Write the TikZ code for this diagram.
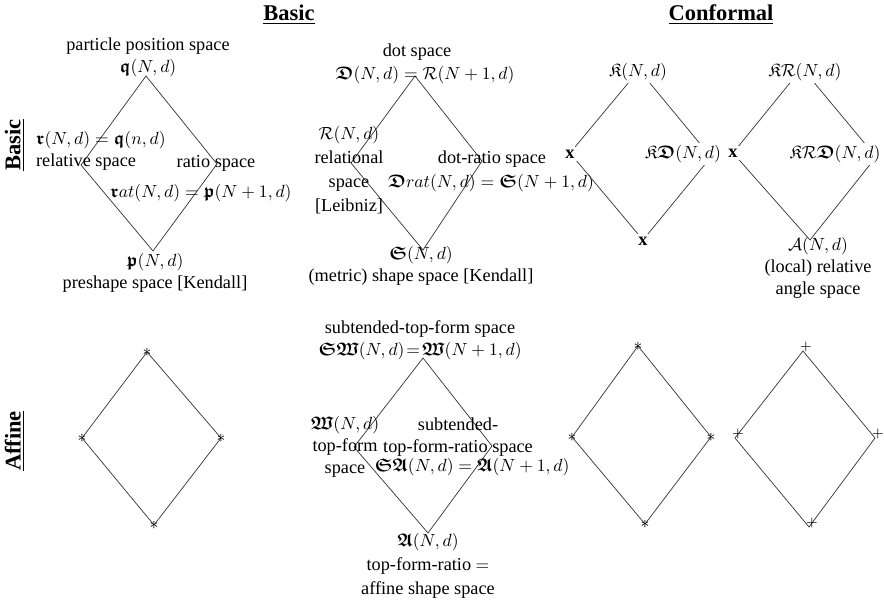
\documentclass[tikz,border=0pt]{standalone}
\usepackage{amsmath,amssymb}
\usepackage[no-math]{fontspec}
\setmainfont{Liberation Serif}
\usepackage{tikz}
\usetikzlibrary{positioning}
\newcommand{\bfr}[1]{\boldsymbol{\mathfrak{#1}}}

\begin{document}
\begin{tikzpicture}[x=0.02cm,y=-0.02cm,
  every node/.style={font=\fontsize{10.4}{12.5}\selectfont,inner sep=1pt},
  lbl/.style={align=center},
  wide/.style={align=center,font=\fontsize{10.4}{13.6}\selectfont},
  hdr/.style={font=\fontsize{12.8}{15}\selectfont\bfseries},
  side/.style={line width=0.4pt,black!80},
  cover/.style={fill=white,inner sep=1.5pt},
  mk/.style={inner sep=0pt,font=\fontsize{10}{10}\selectfont},
  mkp/.style={inner sep=0pt,font=\fontsize{8}{8}\selectfont}]
  \useasboundingbox (0,0) rectangle (884,604);

  % headers
  \node[hdr] (hbasic) at (289,15) {\underline{Basic}};
  \node[hdr] (hconf) at (721,15) {\underline{Conformal}};
  \node[hdr,rotate=90] (rbasic) at (15,145) {\underline{Basic}};
  \node[hdr,rotate=90] (raffine) at (15,441) {\underline{Affine}};

  % basic / basic
  \coordinate (q) at (146,76); \coordinate (r) at (81,165);
  \coordinate (ra) at (217,164); \coordinate (p) at (153,251);
  \draw[side] (q) -- (r) -- (p) -- (ra) -- cycle;
  \node[lbl] (qlab) at (148,57) {particle position space\\ $\bfr{q}(N,d)$};
  \node[align=left,anchor=west] (rlab) at (34,151) {$\bfr{r}(N,d) = \bfr{q}(n,d)$\\ relative space};
  \node (ralab) at (216,163) {ratio space};
  \node (ratlab) at (201,193) {$\bfr{r}at(N,d) = \bfr{p}(N+1,d)$};
  \node[lbl] (plab) at (155,273) {$\bfr{p}(N,d)$\\ preshape space {[Kendall]}};

  % basic / dot
  \coordinate (D) at (415,76); \coordinate (R) at (351,163);
  \coordinate (Dr) at (482,161); \coordinate (S) at (423,250);
  \draw[side] (D) -- (R) -- (S) -- (Dr) -- cycle;
  \node (dotlab) at (417,52) {dot space};
  \node (Dlab) at (425,75) {$\bfr{D}(N,d) = \mathcal{R}(N+1,d)$};
  \node[wide] (Rlab) at (349,170) {$\mathcal{R}(N,d)$\\ relational\\ space\\ {[Leibniz]}};
  \node (drlab) at (492,159) {dot-ratio space};
  \node[anchor=west] (Drlab) at (386,183) {$\bfr{D}rat(N,d) = \bfr{S}(N+1,d)$};
  \node[lbl] (Slab) at (421,266) {$\bfr{S}(N,d)$\\ {(metric) shape space [Kendall]}};

  % conformal / basic
  \coordinate (K) at (639,70); \coordinate (Kl) at (570,153);
  \coordinate (KD) at (711,157); \coordinate (Kb) at (643,240);
  \draw[side] (K) -- (Kl) -- (Kb) -- (KD) -- cycle;
  \node[cover] (Klab) at (638,72) {$\mathfrak{K}(N,d)$};
  \node[cover] (KDlab) at (683,154) {$\mathfrak{K}\bfr{D}(N,d)$};
  \node[cover] (Kx1) at (570,154) {\textbf{x}};
  \node[cover] (Kx2) at (643,241) {\textbf{x}};

  \coordinate (KR) at (802,68); \coordinate (KRl) at (733,153);
  \coordinate (KRD) at (876,157); \coordinate (Ab) at (810,240);
  \draw[side] (KR) -- (KRl) -- (Ab) -- (KRD) -- cycle;
  \node[cover] (KRlab) at (805,72) {$\mathfrak{K}\mathcal{R}(N,d)$};
  \node[cover] (KRDlab) at (835,154) {$\mathfrak{K}\mathcal{R}\bfr{D}(N,d)$};
  \node[cover] (Kx3) at (733,153) {\textbf{x}};
  \node[lbl] (Alab) at (818,268) {$\mathcal{A}(N,d)$\\ {(local) relative}\\ angle space};

  % affine / basic
  \coordinate (a1) at (147,352); \coordinate (a2) at (82,438);
  \coordinate (a3) at (221,438); \coordinate (a4) at (154,525);
  \draw[side] (a1) -- (a2) -- (a4) -- (a3) -- cycle;

  % affine / dot
  \coordinate (W) at (423,358); \coordinate (Wl) at (354,447);
  \coordinate (Wr) at (492,446); \coordinate (A) at (428,533);
  \draw[side] (W) -- (Wl) -- (A) -- (Wr) -- cycle;
  \node[lbl] (swlab) at (420,340) {subtended-top-form space\\ $\bfr{S}\bfr{W}(N,d)\!=\!\bfr{W}(N+1,d)$};
  \node[lbl] (Wlab) at (345,447) {$\bfr{W}(N,d)$\\ top-form\\ space};
  \node[lbl] (salab) at (458,437) {subtended-\\ top-form-ratio space};
  \node (SAlab) at (472,467) {$\bfr{S}\bfr{A}(N,d) = \bfr{A}(N+1,d)$};
  \node[wide] (Aflab) at (428,566) {$\bfr{A}(N,d)$\\ top-form-ratio $=$\\ affine shape space};

  % affine / conformal
  \coordinate (c1) at (638,346); \coordinate (c2) at (572,437);
  \coordinate (c3) at (711,437); \coordinate (c4) at (645,524);
  \draw[side] (c1) -- (c2) -- (c4) -- (c3) -- cycle;
  \coordinate (e1) at (803,351); \coordinate (e2) at (735,438);
  \coordinate (e3) at (875,438); \coordinate (e4) at (809,527);
  \draw[side] (e1) -- (e2) -- (e4) -- (e3) -- cycle;

  \foreach \v in {a1,a2,a3,a4,c1,c2,c3,c4} \node[mk] (s\v) at (\v) {$\ast$};
  \foreach \v in {e1,e2,e3,e4} \node[mkp,xshift=0.06cm,yshift=0.08cm] (p\v) at (\v) {$+$};
\end{tikzpicture}
\end{document}
